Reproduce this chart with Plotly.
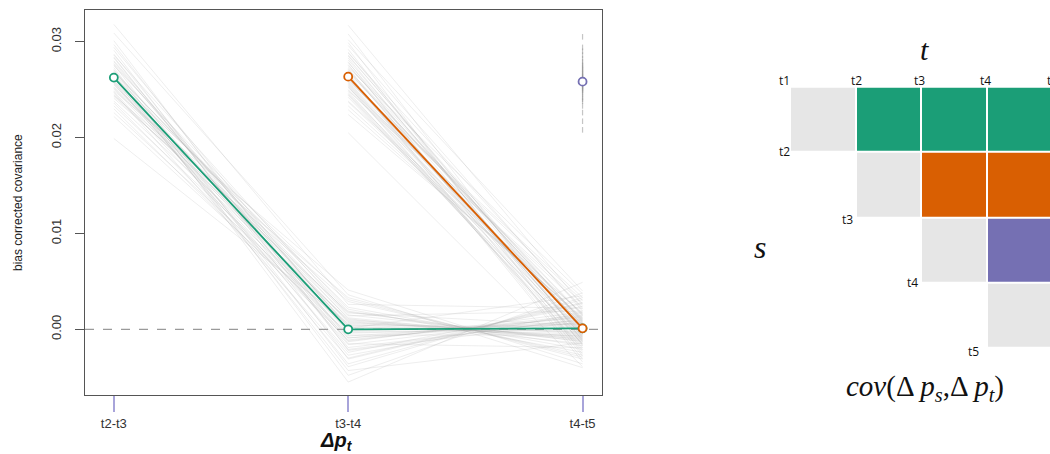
import plotly.graph_objects as go

# ---- data -------------------------------------------------------------
INTERVALS = ["t2-t3", "t3-t4", "t4-t5"]
POS = [1, 2, 3]

# bias corrected covariance, reference interval t2-t3 (s = t1..t2 row)
GREEN_MEAN = [0.02625, 0.0000, 0.0001]
# reference interval t3-t4
ORANGE_MEAN = [0.02635, 0.0001]
# reference interval t4-t5
PURPLE_MEAN = [0.02583]

# replicate estimates (green series)
GREEN_REP_T23 = [
    0.0262, 0.0248, 0.0275, 0.0291, 0.0233, 0.0257, 0.0269, 0.0301, 0.0244, 0.0279,
    0.0226, 0.0265, 0.0253, 0.0287, 0.0318, 0.0259, 0.0238, 0.0271, 0.0249, 0.0283,
    0.0199, 0.0266, 0.0255, 0.0294, 0.0241, 0.0262, 0.0277, 0.0230, 0.0268, 0.0251,
    0.0309, 0.0258, 0.0245, 0.0273, 0.0286, 0.0222, 0.0264, 0.0256, 0.0280, 0.0247,
    0.0270, 0.0236, 0.0261, 0.0297, 0.0252, 0.0276, 0.0243, 0.0267, 0.0259, 0.0284]
GREEN_REP_T34 = [
    0.0008, -0.0012, 0.0021, -0.0031, 0.0004, -0.0006, 0.0014, -0.0022, 0.0033, -0.0009,
    0.0001, -0.0043, 0.0017, -0.0015, 0.0026, -0.0003, 0.0010, -0.0055, 0.0041, -0.0019,
    0.0006, -0.0027, 0.0012, -0.0001, 0.0029, -0.0036, 0.0003, -0.0011, 0.0019, -0.0007,
    0.0036, -0.0024, 0.0009, -0.0048, 0.0015, -0.0004, 0.0023, -0.0016, 0.0002, -0.0030,
    0.0011, -0.0009, 0.0031, -0.0013, 0.0005, -0.0039, 0.0018, -0.0002, 0.0007, -0.0021]
GREEN_REP_T45 = [
    -0.0010, 0.0015, -0.0024, 0.0027, 0.0003, -0.0006, 0.0019, 0.0008, -0.0031, 0.0012,
    0.0035, -0.0014, 0.0004, -0.0019, 0.0022, 0.0001, -0.0008, 0.0049, -0.0036, 0.0010,
    -0.0003, 0.0017, -0.0012, 0.0006, -0.0027, 0.0031, -0.0005, 0.0013, -0.0017, 0.0009,
    -0.0040, 0.0024, -0.0009, 0.0038, -0.0011, 0.0002, -0.0021, 0.0014, -0.0002, 0.0028,
    -0.0015, 0.0007, -0.0029, 0.0018, -0.0007, 0.0033, -0.0013, 0.0005, -0.0004, 0.0011]

# replicate estimates (orange series)
ORANGE_REP_T34 = [
    0.0271, 0.0255, 0.0288, 0.0246, 0.0263, 0.0299, 0.0238, 0.0276, 0.0259, 0.0281,
    0.0229, 0.0266, 0.0250, 0.0292, 0.0317, 0.0261, 0.0242, 0.0273, 0.0254, 0.0285,
    0.0205, 0.0268, 0.0257, 0.0296, 0.0244, 0.0264, 0.0279, 0.0233, 0.0270, 0.0252,
    0.0308, 0.0260, 0.0248, 0.0275, 0.0289, 0.0224, 0.0267, 0.0258, 0.0283, 0.0249,
    0.0272, 0.0237, 0.0262, 0.0302, 0.0253, 0.0278, 0.0245, 0.0269, 0.0256, 0.0286]
ORANGE_REP_T45 = [
    0.0009, -0.0013, 0.0021, -0.0005, 0.0002, -0.0026, 0.0016, -0.0008, 0.0030, -0.0001,
    0.0012, -0.0034, 0.0005, -0.0017, 0.0025, 0.0000, -0.0010, 0.0037, -0.0021, 0.0007,
    -0.0039, 0.0014, -0.0004, 0.0019, -0.0015, 0.0004, -0.0028, 0.0011, -0.0006, 0.0023,
    -0.0012, 0.0033, -0.0019, 0.0008, -0.0002, 0.0017, -0.0031, 0.0003, -0.0009, 0.0027,
    -0.0016, 0.0010, -0.0003, 0.0040, -0.0023, 0.0006, -0.0011, 0.0015, -0.0007, 0.0001]

# replicate estimates (purple series)
PURPLE_REP_T45 = [
    0.0258, 0.0262, 0.0251, 0.0267, 0.0245, 0.0273, 0.0256, 0.0240, 0.0279, 0.0260,
    0.0249, 0.0286, 0.0254, 0.0265, 0.0233, 0.0271, 0.0257, 0.0294, 0.0247, 0.0263,
    0.0226, 0.0259, 0.0276, 0.0252, 0.0305, 0.0242, 0.0268, 0.0255, 0.0217, 0.0282,
    0.0261, 0.0250, 0.0270, 0.0238, 0.0290, 0.0253, 0.0264, 0.0208, 0.0275, 0.0259]

# covariance matrix schematic: 0 = variance (diagonal), 1/2/3 = covariance groups
MATRIX_CELLS = [
    [0, 1, 1, 1],
    [None, 0, 2, 2],
    [None, None, 0, 3],
    [None, None, None, 0],
]
TIMEPOINTS = ["t1", "t2", "t3", "t4", "t5"]

GREEN = "#1B9E77"
ORANGE = "#D95F02"
PURPLE = "#7570B3"
CELL_GREY = "#E6E6E6"
REP_GREY = "rgba(170,170,170,0.2)"
DOT_GREY = "rgba(150,150,150,0.55)"

W, H = 1050, 454


def px_x(v):
    return v / W


def px_y(v):
    return 1 - v / H


fig = go.Figure()

# replicate lines, green group
gx, gy = [], []
for a, b, c in zip(GREEN_REP_T23, GREEN_REP_T34, GREEN_REP_T45):
    gx += POS + [None]
    gy += [a, b, c, None]
fig.add_trace(go.Scatter(x=gx, y=gy, mode="lines", line=dict(color=REP_GREY, width=1),
                         hoverinfo="skip", showlegend=False))

# replicate lines, orange group
ox, oy = [], []
for a, b in zip(ORANGE_REP_T34, ORANGE_REP_T45):
    ox += POS[1:] + [None]
    oy += [a, b, None]
fig.add_trace(go.Scatter(x=ox, y=oy, mode="lines", line=dict(color=REP_GREY, width=1),
                         hoverinfo="skip", showlegend=False))

# replicate values, purple group
fig.add_trace(go.Scatter(x=[POS[2]] * len(PURPLE_REP_T45), y=PURPLE_REP_T45, mode="markers",
                         marker=dict(symbol="line-ns-open", size=4, color=DOT_GREY,
                                     line=dict(color=DOT_GREY, width=1.2)),
                         hoverinfo="skip", showlegend=False))

# mean covariance lines
for xs, ys, col in [(POS, GREEN_MEAN, GREEN), (POS[1:], ORANGE_MEAN, ORANGE),
                    (POS[2:], PURPLE_MEAN, PURPLE)]:
    fig.add_trace(go.Scatter(x=xs, y=ys, mode="lines+markers",
                             line=dict(color=col, width=1.8),
                             marker=dict(symbol="circle", size=8, color="white",
                                         line=dict(color=col, width=1.8)),
                             hoverinfo="skip", showlegend=False))

# covariance matrix schematic
fig.add_trace(go.Heatmap(
    z=MATRIX_CELLS, x=[0.5, 1.5, 2.5, 3.5], y=[0.5, 1.5, 2.5, 3.5],
    xaxis="x2", yaxis="y2", zmin=0, zmax=3, xgap=2, ygap=2, showscale=False,
    colorscale=[[0, CELL_GREY], [0.25, CELL_GREY], [0.25, GREEN], [0.5, GREEN],
                [0.5, ORANGE], [0.75, ORANGE], [0.75, PURPLE], [1, PURPLE]],
    hoverinfo="skip"))

fig.add_shape(type="line", xref="x domain", yref="y", x0=0, x1=1, y0=0, y1=0,
              line=dict(color="#9A9A9A", width=1.2, dash="dash"), layer="below")

annotations = [
    dict(text="bias corrected covariance", x=px_x(18), y=px_y(203), textangle=-90,
         font=dict(size=12, color="#222", family="Liberation Sans")),
    dict(text="<b><i>Δp<sub>t</sub></i></b>", x=px_x(336), y=px_y(441),
         font=dict(size=20, color="#111", family="Liberation Sans")),
    dict(text="<i>t</i>", x=px_x(924), y=px_y(50),
         font=dict(size=30, color="#111", family="Liberation Serif")),
    dict(text="<i>s</i>", x=px_x(760), y=px_y(247),
         font=dict(size=32, color="#111", family="Liberation Serif")),
    dict(text="<i>cov</i>(Δ <i>p<sub>s</sub></i>,Δ <i>p<sub>t</sub></i>)", x=px_x(925), y=px_y(388),
         font=dict(size=29, color="#111", family="Liberation Serif")),
]
# column labels along the top edge
for lab, cx in zip(TIMEPOINTS, [784, 856, 919, 985, 1052]):
    annotations.append(dict(text=lab, x=px_x(cx), y=px_y(80),
                            font=dict(size=12, color="#111", family="Open Sans")))
# row labels at the lower-left corner of each diagonal cell
for lab, (cx, cy) in zip(TIMEPOINTS[1:], [(784, 151), (847, 219), (912, 282), (973, 351)]):
    annotations.append(dict(text=lab, x=px_x(cx), y=px_y(cy),
                            font=dict(size=12, color="#111", family="Open Sans")))
for a in annotations:
    a.update(xref="paper", yref="paper", showarrow=False, xanchor="center", yanchor="middle")

fig.update_layout(
    width=W, height=H, margin=dict(l=0, r=0, t=0, b=0),
    paper_bgcolor="white", plot_bgcolor="white",
    font=dict(family="Liberation Sans"),
    xaxis=dict(domain=[px_x(85), px_x(602)], range=[0.877, 3.083],
               tickvals=POS, ticktext=INTERVALS, ticks="outside", ticklen=16,
               tickwidth=1.5, tickcolor="#A8A4DA", showline=True, mirror=True,
               linecolor="#555", linewidth=1.3, showgrid=False, zeroline=False,
               tickfont=dict(size=13, color="#333")),
    yaxis=dict(domain=[px_y(395), px_y(10)], range=[-0.00685, 0.0333],
               tickvals=[0, 0.01, 0.02, 0.03], ticktext=["0.00", "0.01", "0.02", "0.03"],
               tickangle=-90, ticks="outside", ticklen=9, tickcolor="#555",
               ticklabelstandoff=9,
               showline=True, mirror=True, linecolor="#555", linewidth=1.3,
               showgrid=False, zeroline=False, tickfont=dict(size=13, color="#333")),
    xaxis2=dict(domain=[px_x(790), 1.0], range=[0, 3.96], visible=False, anchor="y2"),
    yaxis2=dict(domain=[px_y(347.7), px_y(86.7)], range=[4, 0], visible=False, anchor="x2"),
    annotations=annotations,
)

fig.write_html("out.html")
